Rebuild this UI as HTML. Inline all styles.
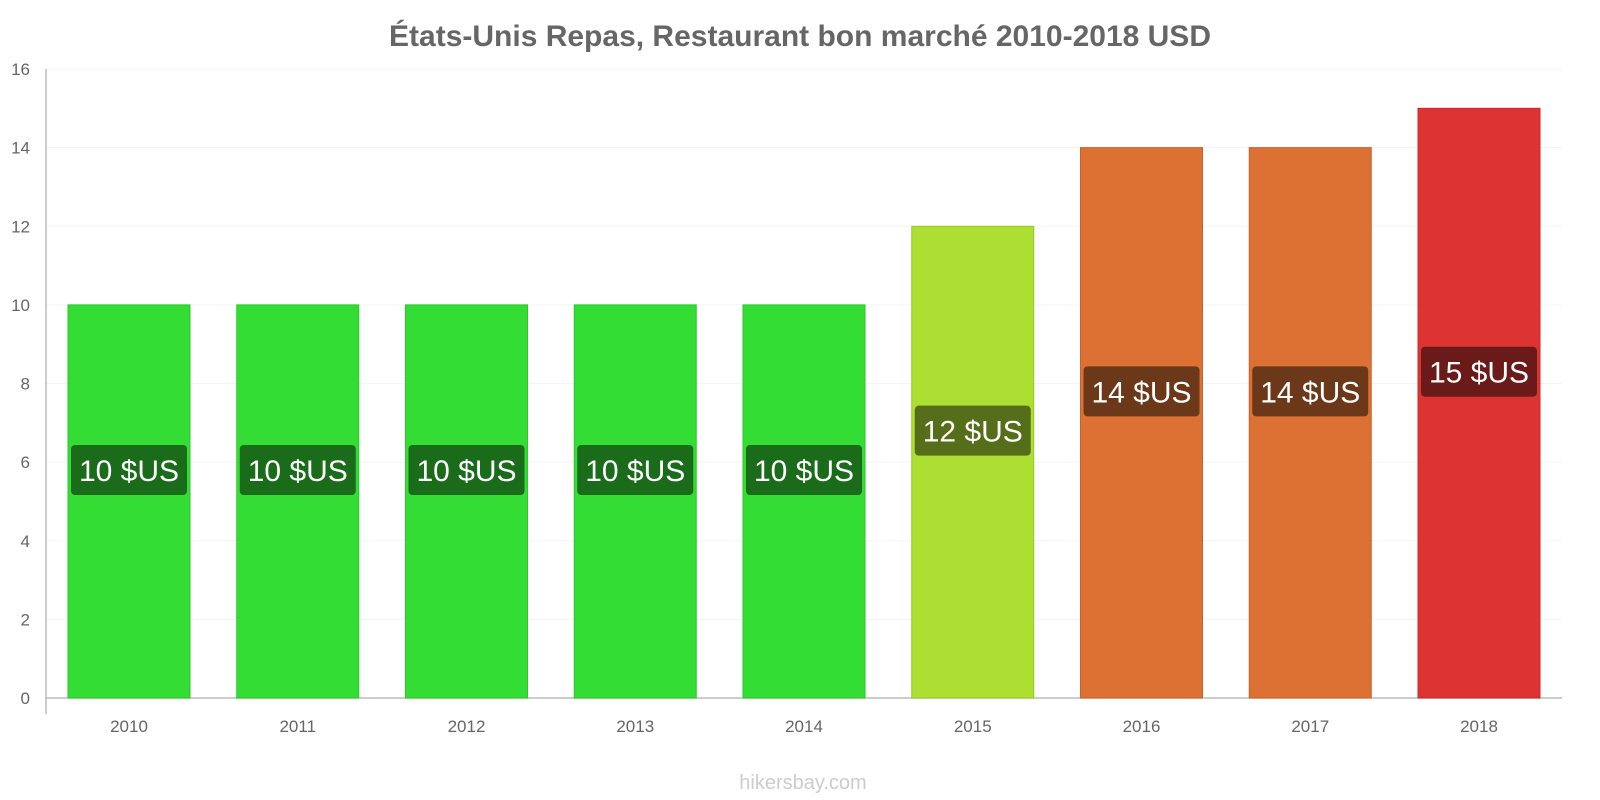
<!DOCTYPE html>
<html><head><meta charset="utf-8"><style>
body{margin:0;background:#fff;font-family:"Liberation Sans",sans-serif}
svg{display:block}
</style></head><body>
<svg id="chart" width="1600" height="800">
<text x="800" y="46" text-anchor="middle" font-size="30" font-weight="bold" fill="#666">États-Unis Repas, Restaurant bon marché 2010-2018 USD</text>
<g id="grid"></g><g id="bars"></g><g id="labels"></g>
<text x="803" y="789" text-anchor="middle" font-size="20" fill="#ccc">hikersbay.com</text>
</svg>
<script>
const categories=["2010","2011","2012","2013","2014","2015","2016","2017","2018"];
const values=[10,10,10,10,10,12,14,14,15];
const yTicks=[0,2,4,6,8,10,12,14,16];
const unit="$US";
const NS="http://www.w3.org/2000/svg";
const y0=698,y1=69,yMax=16,xL=46,xR=1562;
const y=v=>y0-(v/yMax)*(y0-y1);
const firstC=129,lastC=1479;
const step=(lastC-firstC)/(categories.length-1);
const xc=i=>firstC+step*i;
function colors(v){
 if(v>=15)return["#dd3333","#6b1a1a","#c82a2a"];
 if(v>=13)return["#dd7033","#6b391a","#c8602a"];
 if(v>=11)return["#addf33","#566d1a","#98c82a"];
 return["#33dd33","#1a6b1a","#2ac82a"];}
function mk(tag,attrs,parent){const e=document.createElementNS(NS,tag);for(const k in attrs)e.setAttribute(k,attrs[k]);parent.appendChild(e);return e;}
const grid=document.getElementById('grid'),bars=document.getElementById('bars'),labels=document.getElementById('labels');
yTicks.forEach(t=>{
 const l=mk('line',{x1:xL,x2:xR,y1:y(t),y2:y(t),stroke:t===0?'#bbb':'#f3f3f3','stroke-width':t===0?1.5:1},grid);
 
 
 const tx=mk('text',{x:30,y:y(t)+6,'text-anchor':'end','font-size':17,fill:'#666'},grid);
 tx.textContent=t;
 
 
});
const ax=mk('line',{x1:xL,x2:xL,y1:y1,y2:y0+16,stroke:'#bbb','stroke-width':1.5},grid);


categories.forEach((c,i)=>{
 const v=values[i],[fc,lc,sc]=colors(v),cx=xc(i),w=122;
 const r=mk('rect',{x:cx-w/2,y:y(v),width:w,height:y0-y(v),fill:fc,stroke:sc,'stroke-width':1},bars);
 
 
 const xt=mk('text',{x:cx,y:732,'text-anchor':'middle','font-size':17,fill:'#666'},labels);
 xt.textContent=c;
 
 
 const ly=y(v/2+0.8);
 const lb=mk('rect',{x:cx-58,y:ly-25,width:116,height:50,rx:4,fill:lc},labels);
 
 
 const lt=mk('text',{x:cx,y:ly+11,'text-anchor':'middle','font-size':30,fill:'#fff'},labels);
 lt.textContent=v+' '+unit;
 
 
});
</script>
</body></html>
